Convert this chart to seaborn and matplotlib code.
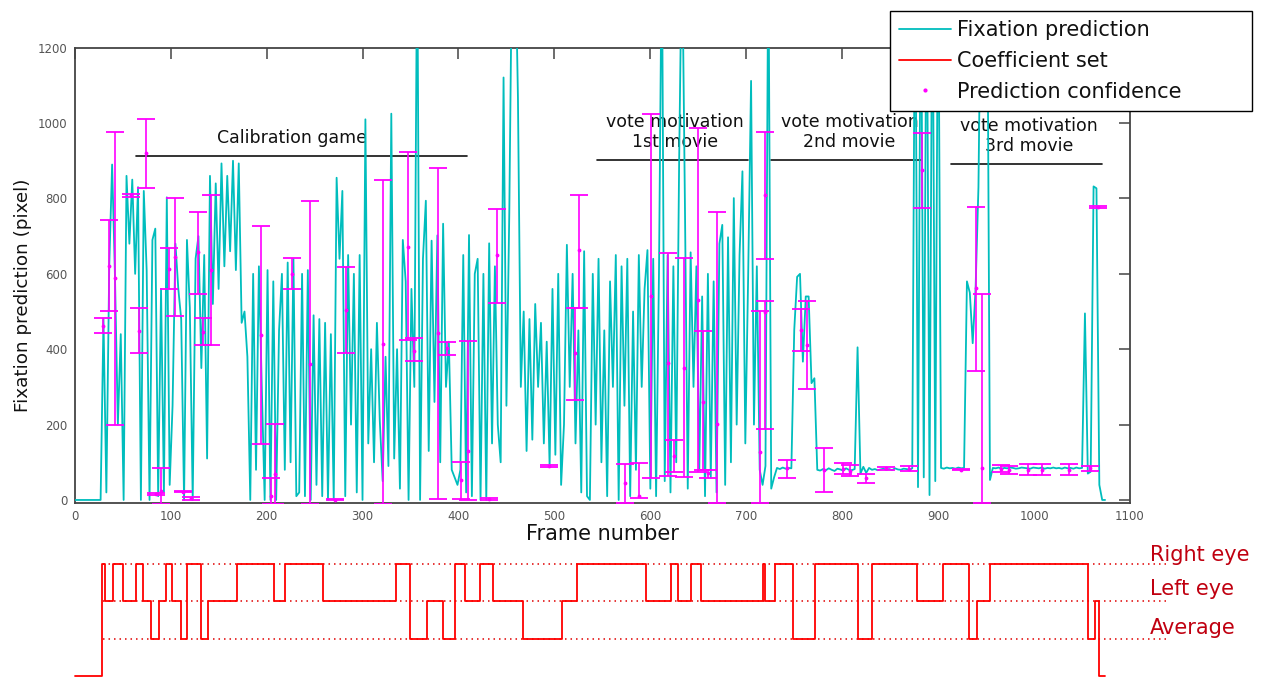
import numpy as np
import pandas as pd
import matplotlib
matplotlib.use("Agg")
import matplotlib.pyplot as plt
from matplotlib.lines import Line2D
import seaborn as sns

# ---------------- data ----------------
# fixation prediction, one value every 3 frames, starting at frame 0
fixation = [
    0, 0, 0, 0, 0, 0, 0, 0, 0, 0,
    480, 20, 620, 890, 590, 200, 440, 0, 860, 680,
    850, 600, 830, 0, 820, 610, 0, 690, 720, 10,
    560, 20, 803, 40, 250, 680, 560, 480, 0, 690,
    510, 0, 640, 700, 350, 650, 110, 860, 520, 840,
    560, 893, 620, 860, 660, 900, 610, 893, 470, 500,
    380, 0, 600, 80, 620, 300, 0, 610, 0, 580,
    0, 450, 600, 80, 630, 100, 640, 10, 20, 600,
    10, 610, 0, 490, 40, 480, 10, 470, 0, 440,
    0, 855, 640, 820, 10, 650, 200, 600, 20, 650,
    0, 1010, 150, 400, 100, 470, 210, 50, 380, 90,
    1025, 110, 400, 30, 690, 580, 0, 560, 300, 1500,
    0, 640, 794, 130, 688, 260, 702, 100, 733, 300,
    420, 80, 60, 40, 80, 650, 20, 703, 10, 600,
    640, 0, 600, 0, 681, 150, 620, 200, 100, 1121,
    250, 764, 1500, 1500, 1068, 300, 500, 130, 480, 160,
    520, 300, 470, 150, 420, 90, 560, 120, 600, 40,
    200, 677, 300, 600, 150, 450, 20, 660, 10, 0,
    600, 200, 640, 100, 450, 10, 580, 300, 650, 0,
    620, 250, 640, 10, 500, 80, 650, 300, 560, 663,
    30, 640, 10, 600, 1500, 50, 650, 20, 620, 100,
    893, 1500, 796, 30, 657, 300, 620, 80, 540, 10,
    600, 60, 580, 20, 680, 730, 40, 697, 100, 801,
    200, 650, 872, 150, 600, 1112, 200, 620, 80, 40,
    90, 1500, 30, 60, 85, 82, 86, 83, 85, 84,
    451, 592, 600, 367, 540, 540, 310, 323, 80, 78,
    82, 79, 84, 80, 77, 83, 81, 78, 84, 80,
    79, 82, 405, 70, 88, 72, 85, 80, 82, 79,
    81, 83, 80, 82, 79, 84, 81, 80, 83, 82,
    80, 84, 1500, 34, 1500, 60, 1500, 13, 1500, 50,
    1500, 85, 83, 86, 84, 85, 83, 86, 84, 85,
    580, 550, 416, 560, 830, 1500, 1500, 1500, 53, 85,
    84, 86, 83, 85, 84, 86, 85, 83, 84, 86,
    85, 84, 83, 86, 85, 84, 86, 83, 85, 84,
    86, 84, 85, 83, 86, 84, 85, 83, 86, 84,
    85, 495, 70, 75, 832, 827, 40, 0, 0,
]
frame_step = 3

# prediction confidence (error bars)
eb_frame = [29, 36, 42, 59, 67, 74, 85, 90, 98, 105, 113, 121, 128, 134, 142,
            194, 205, 209, 227, 245, 271, 283, 321, 347, 354, 379, 388, 403,
            410, 432, 440, 494, 521, 526, 574, 588, 601, 618, 625, 635, 650,
            655, 660, 670, 714, 719, 720, 742, 757, 763, 781, 801, 808, 825,
            846, 870, 883, 924, 939, 946, 965, 974, 994, 1008, 1036, 1058, 1067]
eb_center = [461, 622, 588, 808, 449, 920, 15, 23, 612, 646, 22, 5, 657, 446, 610,
             439, 10, 69, 600, 362, 1, 504, 415, 670, 396, 442, 402, 53,
             130, 2, 650, 90, 389, 664, 44, 10, 542, 363, 117, 351, 531,
             261, 71, 201, 128, 808, 500, 84, 451, 411, 80, 82, 78, 57,
             84, 83, 876, 80, 562, 84, 83, 80, 80, 80, 80, 85, 778]
eb_low = [442, 501, 200, 805, 389, 829, 12, -10, 559, 488, 20, 0, 546, 411, 411,
          149, -10, -10, 559, -10, 0, 391, -10, 425, 370, 2, 385, 2,
          0, 1, 522, 87, 265, 510, -8, 4, 59, 64, 75, 60, 75,
          80, 57, -8, -8, 639, 187, 59, 394, 294, 22, 69, 64, 46,
          80, 77, 775, 79, 342, -9, 73, 69, 66, 66, 66, 78, 776]
eb_high = [482, 743, 976, 811, 510, 1012, 18, 84, 668, 800, 25, 9, 763, 484, 809,
           728, 58, 202, 641, 792, 2, 617, 849, 924, 431, 880, 420, 102,
           422, 4, 772, 93, 510, 809, 95, 99, 1025, 656, 159, 641, 988,
           448, 80, 763, 502, 977, 528, 106, 508, 528, 137, 97, 93, 69,
           88, 90, 975, 82, 778, 546, 93, 90, 95, 95, 95, 90, 780]

# coefficient set (0 = off, 1 = Average, 2 = Left eye, 3 = Right eye)
coef_change_frames = [0, 28, 32, 40, 50.5, 64.4, 71.2, 79.2, 87.6, 94.8,
                      101.5, 110.4, 117.5, 131.5, 138.7, 169, 208, 218.8, 258.7, 334.9,
                      349.7, 367.6, 383.6, 396.4, 406.7, 422.3, 436.2, 467.4, 508, 524,
                      595.8, 621.4, 629.3, 642.9, 652.4, 717.2, 719.7, 730.4, 748.6, 772,
                      816.2, 830.7, 878.2, 905, 931.8, 940.9, 954.5, 1055.7, 1063, 1068]
coef_levels = [0, 3, 2, 3, 2, 3, 2, 1, 2, 3,
               2, 1, 3, 1, 2, 3, 2, 3, 2, 3,
               1, 2, 1, 3, 2, 3, 2, 1, 2, 3,
               2, 3, 2, 3, 2, 3, 2, 3, 1, 3,
               1, 3, 2, 3, 1, 2, 3, 1, 2, 0]
coef_end_frame = 1074
level_names = ["Average", "Left eye", "Right eye"]

x_ticks = [0, 100, 200, 300, 400, 500, 600, 700, 800, 900, 1000, 1100]
y_ticks = [0, 200, 400, 600, 800, 1000, 1200]

# ---------------- style ----------------
sns.set_style("white")
plt.rcParams["font.family"] = ["DejaVu Sans"]

CYAN = "#00bdbd"
MAGENTA = "#ff00ff"
RED = "#ff0000"
DARKRED = "#c00010"
AXC = "#444444"

fig = plt.figure(figsize=(12.61, 6.77), dpi=100)

# ---------------- main axes ----------------
ax = fig.add_axes([0.05924, 0.2566, 0.8369, 0.6729])
df = pd.DataFrame({"frame": np.arange(len(fixation)) * frame_step,
                   "value": fixation})
sns.lineplot(data=df, x="frame", y="value", ax=ax, color=CYAN, linewidth=1.3,
             estimator=None, sort=False, zorder=3)

c = np.array(eb_center, float)
lo = np.array(eb_low, float)
hi = np.array(eb_high, float)
ax.errorbar(eb_frame, c, yerr=[c - lo, hi - c], fmt=".", color=MAGENTA,
            ms=3.5, elinewidth=1.2, capsize=6.8, capthick=1.3, zorder=4)

ax.set_xlim(0, 1100)
ax.set_ylim(-8.8, 1200)
ax.set_xticks(x_ticks)
ax.set_yticks(y_ticks)
ax.tick_params(direction="in", top=True, right=True, length=8, width=1.1,
               color=AXC, labelcolor="#555555", labelsize=8.5)
ax.tick_params(axis="y", pad=5)
ax.tick_params(axis="x", pad=5)
for s in ax.spines.values():
    s.set_visible(True)
    s.set_color(AXC)
    s.set_linewidth(1.3)

ax.set_xlabel("Frame number", fontsize=15, color="#111111")
ax.set_ylabel("Fixation prediction (pixel)", fontsize=13.2, color="#111111")
ax.xaxis.set_label_coords(0.5, -0.046)
ax.yaxis.set_label_coords(-0.0405, 0.457)

# section annotations
sections = [
    ("Calibration game", 63.6, 408.6, 912, 227, 960),
    ("vote motivation\n1st movie", 544.7, 701.5, 902, 625.7, 977),
    ("vote motivation\n2nd movie", 725.8, 883.5, 902, 807.6, 976),
    ("vote motivation\n3rd movie", 913.4, 1070.4, 892, 994.7, 966),
]
for label, x0, x1, yl, xt, yt in sections:
    ax.plot([x0, x1], [yl, yl], color="#111111", lw=1.2, zorder=1)
    ax.text(xt, yt, label, ha="center", va="center", fontsize=12.5,
            color="#111111", linespacing=1.15, zorder=1)

# ---------------- coefficient-set strip ----------------
ax2 = fig.add_axes([0.05924, 0.0, 0.8369, 137 / 677])
ax2.set_xlim(0, 1100)
ax2.set_ylim(-0.027, 3.646)
ax2.axis("off")

for lvl in (1, 2, 3):
    ax2.plot([29.6, 1137], [lvl, lvl], color="#e00000", lw=1.1,
             dashes=(1, 2.6), clip_on=False, zorder=1)

step_x = coef_change_frames + [coef_end_frame]
step_y = coef_levels + [coef_levels[-1]]
sns.lineplot(x=step_x, y=step_y, ax=ax2, color=RED, linewidth=1.3,
             drawstyle="steps-post", estimator=None, sort=False,
             clip_on=False, zorder=3)

label_base = [1.12, 2.17, 3.09]
for name, yb in zip(level_names, label_base):
    ax2.text(1121, yb, name, fontsize=15, color=DARKRED, ha="left",
             va="baseline", clip_on=False)

# ---------------- legend ----------------
handles = [
    Line2D([], [], color=CYAN, lw=1.3),
    Line2D([], [], color=RED, lw=1.3),
    Line2D([], [], color=MAGENTA, marker=".", ls="none", ms=4),
]
labels = ["Fixation prediction", "Coefficient set", "Prediction confidence"]
leg = fig.legend(handles, labels, loc="upper left",
                 bbox_to_anchor=(890 / 1261, (677 - 109) / 677, 362 / 1261, 98 / 677),
                 bbox_transform=fig.transFigure, mode="expand",
                 borderaxespad=0, fontsize=15, frameon=True, fancybox=False,
                 framealpha=1, edgecolor="black", borderpad=0.45,
                 labelspacing=0.51, handlelength=2.5, handletextpad=0.25)
leg.get_frame().set_linewidth(1.0)
for t in leg.get_texts():
    t.set_color("#111111")

fig.savefig("out.png", dpi=100)
